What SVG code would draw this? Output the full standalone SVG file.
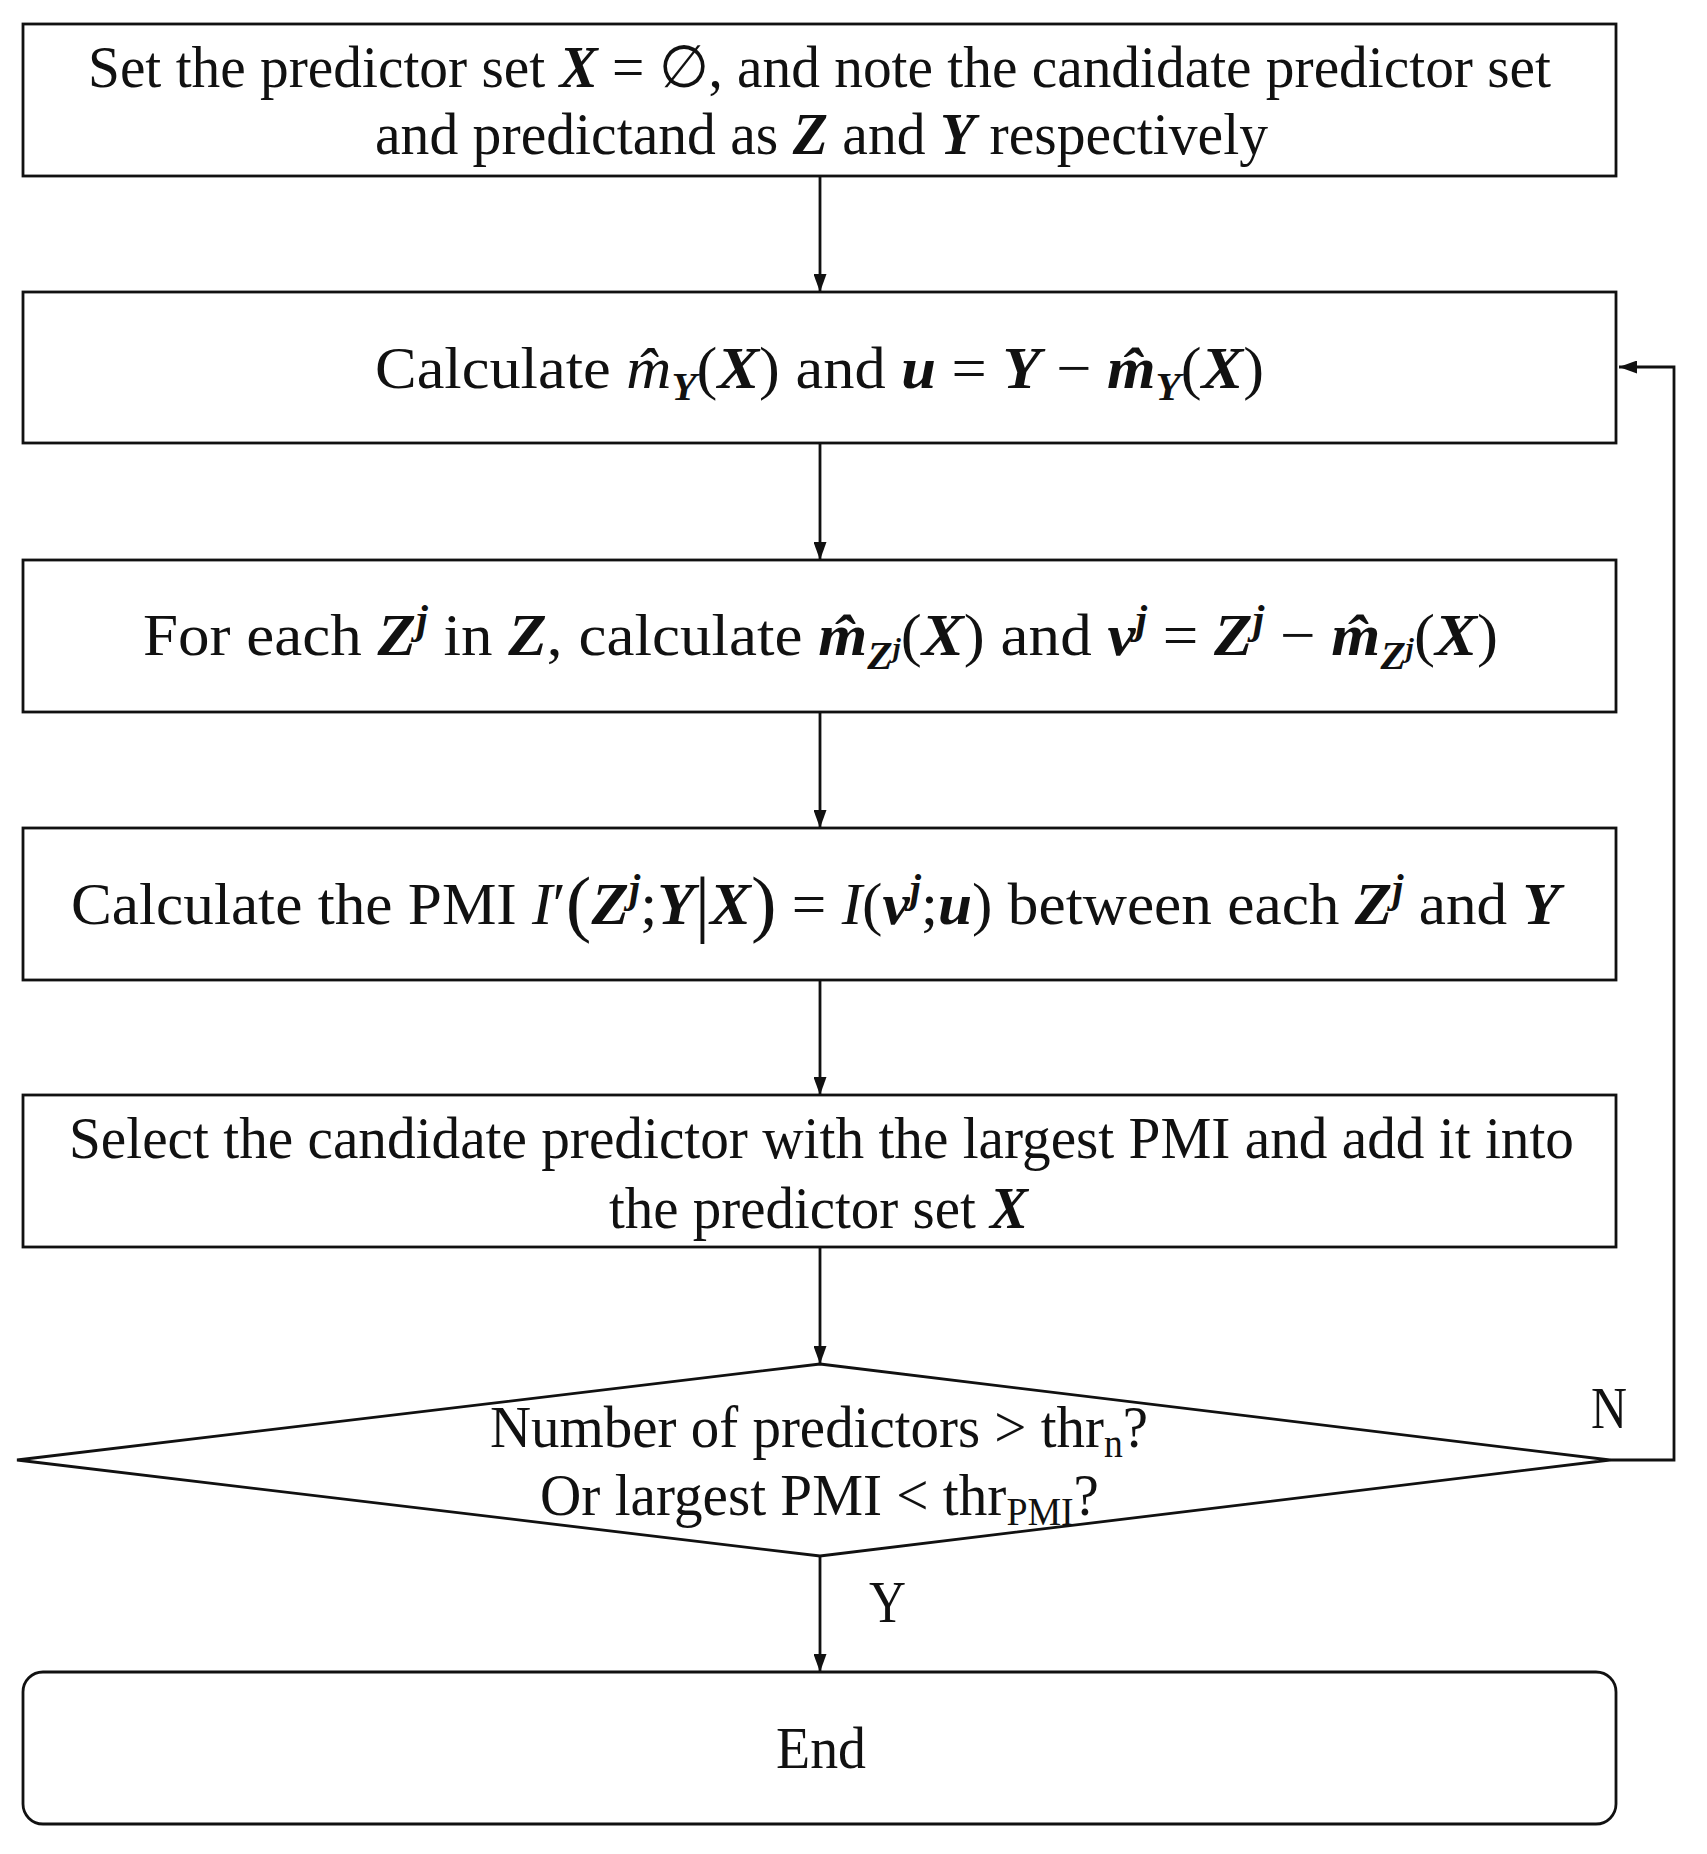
<svg xmlns="http://www.w3.org/2000/svg" width="1707" height="1854" viewBox="0 0 1707 1854">
<style>
  .box { fill: #ffffff; stroke: #111111; stroke-width: 2.8; }
  .conn { fill: none; stroke: #111111; stroke-width: 2.8; }
  text { font-family: "Liberation Serif", "Times New Roman", serif; font-size: 59px; fill: #111111; }
  .bi { font-weight: bold; font-style: italic; }
  .it { font-style: italic; }
  .sm { font-size: 39px; }
  .big { font-size: 74px; }
</style>
<defs>
  <marker id="arrow" markerUnits="userSpaceOnUse" markerWidth="18" markerHeight="13" refX="18" refY="6.5" orient="auto" viewBox="0 0 18 13">
    <path d="M0,0 L18,6.5 L0,13 Z" fill="#111111"/>
  </marker>
</defs>
<rect width="1707" height="1854" fill="#ffffff"/>

<g id="connectors">
  <line class="conn" x1="820" y1="176" x2="820" y2="292" marker-end="url(#arrow)"/>
  <line class="conn" x1="820" y1="443" x2="820" y2="560" marker-end="url(#arrow)"/>
  <line class="conn" x1="820" y1="712" x2="820" y2="828" marker-end="url(#arrow)"/>
  <line class="conn" x1="820" y1="980" x2="820" y2="1095" marker-end="url(#arrow)"/>
  <line class="conn" x1="820" y1="1247" x2="820" y2="1364" marker-end="url(#arrow)"/>
  <line class="conn" x1="820" y1="1556" x2="820" y2="1672" marker-end="url(#arrow)"/>
  <polyline class="conn" points="1610,1460 1674,1460 1674,367 1619,367" marker-end="url(#arrow)"/>
  <text x="1591" y="1428" textLength="36" lengthAdjust="spacingAndGlyphs">N</text>
  <text x="869" y="1622" textLength="37" lengthAdjust="spacingAndGlyphs">Y</text>
</g>

<g id="node1">
  <rect class="box" x="23" y="24" width="1593" height="152"/>
  <text x="88" y="87" textLength="1463" lengthAdjust="spacingAndGlyphs">Set the predictor set <tspan class="bi">X</tspan> = ∅, and note the candidate predictor set</text>
  <text x="375" y="154" textLength="893" lengthAdjust="spacingAndGlyphs">and predictand as <tspan class="bi">Z</tspan> and <tspan class="bi">Y</tspan> respectively</text>
</g>

<g id="node2">
  <rect class="box" x="23" y="292" width="1593" height="151"/>
  <text x="375" y="388" textLength="889" lengthAdjust="spacingAndGlyphs">Calculate <tspan class="it">m̂</tspan><tspan class="bi sm" dy="12">Y</tspan><tspan dy="-12">(</tspan><tspan class="bi">X</tspan>) and <tspan class="bi">u</tspan> = <tspan class="bi">Y</tspan> − <tspan class="bi">m̂</tspan><tspan class="bi sm" dy="12">Y</tspan><tspan dy="-12">(</tspan><tspan class="bi">X</tspan>)</text>
</g>

<g id="node3">
  <rect class="box" x="23" y="560" width="1593" height="152"/>
  <text x="143" y="655" textLength="1355" lengthAdjust="spacingAndGlyphs">For each <tspan class="bi">Z</tspan><tspan class="bi sm" dy="-22">j</tspan><tspan dy="22"> in </tspan><tspan class="bi">Z</tspan>, calculate <tspan class="bi">m̂</tspan><tspan class="bi sm" dy="14">Z</tspan><tspan class="bi" font-size="27" dy="-12">j</tspan><tspan dy="-2">(</tspan><tspan class="bi">X</tspan>) and <tspan class="bi">v</tspan><tspan class="bi sm" dy="-22">j</tspan><tspan dy="22"> = </tspan><tspan class="bi">Z</tspan><tspan class="bi sm" dy="-22">j</tspan><tspan dy="22"> − </tspan><tspan class="bi">m̂</tspan><tspan class="bi sm" dy="14">Z</tspan><tspan class="bi" font-size="27" dy="-12">j</tspan><tspan dy="-2">(</tspan><tspan class="bi">X</tspan>)</text>
</g>

<g id="node4">
  <rect class="box" x="23" y="828" width="1593" height="152"/>
  <text x="71" y="924" textLength="1489" lengthAdjust="spacingAndGlyphs">Calculate the PMI <tspan class="it">I</tspan>′<tspan class="big" dy="4">(</tspan><tspan class="bi" dy="-4">Z</tspan><tspan class="bi sm" dy="-22">j</tspan><tspan dy="22">;</tspan><tspan class="bi">Y</tspan><tspan class="big" dy="4">|</tspan><tspan class="bi" dy="-4">X</tspan><tspan class="big" dy="4">)</tspan><tspan dy="-4"> = </tspan><tspan class="it">I</tspan>(<tspan class="bi">v</tspan><tspan class="bi sm" dy="-22">j</tspan><tspan dy="22">;</tspan><tspan class="bi">u</tspan>) between each <tspan class="bi">Z</tspan><tspan class="bi sm" dy="-22">j</tspan><tspan dy="22"> and </tspan><tspan class="bi">Y</tspan></text>
</g>

<g id="node5">
  <rect class="box" x="23" y="1095" width="1593" height="152"/>
  <text x="69" y="1158" textLength="1505" lengthAdjust="spacingAndGlyphs">Select the candidate predictor with the largest PMI and add it into</text>
  <text x="609" y="1228" textLength="419" lengthAdjust="spacingAndGlyphs">the predictor set <tspan class="bi">X</tspan></text>
</g>

<g id="decision">
  <polygon class="box" points="820,1364 1610,1460 820,1556 17,1460"/>
  <text x="490" y="1447" textLength="658" lengthAdjust="spacingAndGlyphs">Number of predictors &gt; thr<tspan class="sm" dy="10">n</tspan><tspan dy="-10">?</tspan></text>
  <text x="540" y="1515" textLength="559" lengthAdjust="spacingAndGlyphs">Or largest PMI &lt; thr<tspan class="sm" dy="10">PMI</tspan><tspan dy="-10">?</tspan></text>
</g>

<g id="end">
  <rect class="box" x="23" y="1672" width="1593" height="152" rx="20" ry="20"/>
  <text x="776" y="1768" textLength="90" lengthAdjust="spacingAndGlyphs">End</text>
</g>
</svg>
